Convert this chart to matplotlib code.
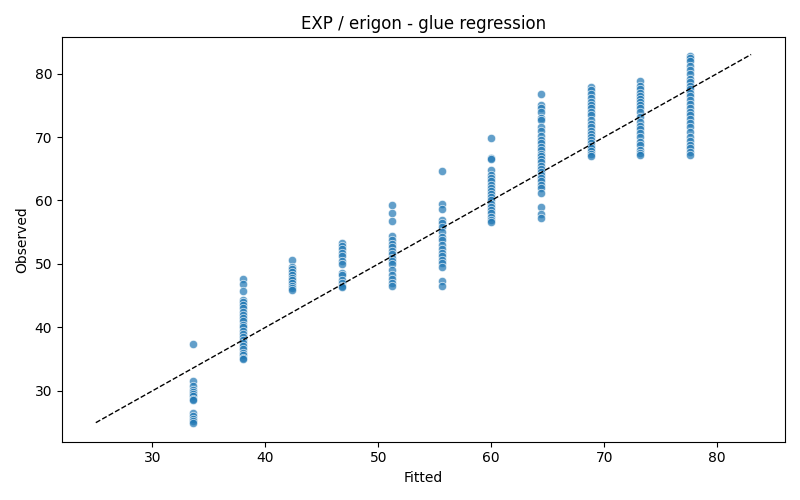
import matplotlib
matplotlib.use("Agg")
import matplotlib.pyplot as plt
import numpy as np

fitted_levels = [33.6, 38.0, 42.4, 46.8, 51.2, 55.6, 60.0, 64.4, 68.8, 73.2, 77.6]
observed_by_level = [
    [37.4, 31.5, 30.8, 30.2, 29.8, 29.5, 29.2, 28.8, 28.5, 26.6, 26.0, 25.6, 25.3, 25.0],
    [47.6, 46.8, 45.8, 44.4, 44.0, 43.5, 43.0, 42.4, 42.0, 41.5, 41.0, 40.4, 40.0, 39.5, 39.0, 38.5, 38.0, 37.5, 37.0, 36.6, 36.0, 35.6, 35.2, 35.0],
    [50.6, 49.6, 49.2, 48.8, 48.3, 47.8, 47.4, 47.0, 46.6, 46.2, 45.9],
    [53.3, 52.8, 52.3, 51.8, 51.2, 50.5, 50.0, 48.6, 48.2, 47.5, 47.0, 46.6, 46.3],
    [59.3, 58.1, 56.8, 54.4, 53.8, 53.2, 52.6, 52.1, 51.6, 51.0, 50.5, 50.0, 49.0, 48.3, 47.6, 47.0, 46.6],
    [64.6, 59.5, 58.6, 56.9, 56.4, 55.8, 55.0, 54.3, 53.8, 53.0, 52.4, 51.8, 51.2, 50.7, 50.2, 49.6, 47.3, 46.5],
    [69.8, 66.7, 66.5, 64.8, 64.0, 63.5, 63.0, 62.5, 62.0, 61.5, 61.0, 60.5, 60.0, 59.5, 59.0, 58.5, 58.0, 57.4, 57.0, 56.6],
    [76.8, 75.0, 74.5, 74.0, 73.0, 72.6, 71.5, 71.0, 70.2, 69.6, 69.0, 68.5, 68.0, 67.4, 67.0, 66.5, 66.0, 65.5, 65.0, 64.5, 64.0, 63.5, 63.0, 62.5, 62.0, 61.2, 59.0, 57.8, 57.3],
    [77.9, 77.4, 76.7, 76.2, 75.5, 75.0, 74.5, 74.0, 73.4, 72.6, 72.0, 71.5, 71.0, 70.5, 70.0, 69.5, 69.0, 68.6, 68.2, 67.8, 67.4, 67.0],
    [78.8, 78.1, 77.5, 77.0, 76.5, 76.0, 75.5, 75.0, 74.5, 74.0, 73.2, 72.4, 71.8, 71.2, 70.6, 70.0, 69.2, 68.8, 68.0, 67.5, 67.2],
    [82.8, 82.4, 82.0, 81.2, 80.5, 80.0, 79.2, 78.6, 78.0, 77.5, 77.0, 76.4, 75.8, 75.2, 74.6, 74.0, 73.4, 72.8, 72.2, 71.5, 70.8, 70.0, 69.4, 68.8, 68.2, 67.6, 67.2],
]
line_range = [25.0, 83.0]

fitted = []
observed = []
for f, obs in zip(fitted_levels, observed_by_level):
    fitted += [f] * len(obs)
    observed += obs

fig, ax = plt.subplots(figsize=(8, 5), dpi=100)
ax.scatter(fitted, observed, s=36, color="#1f77b4", alpha=0.7, edgecolors="white", linewidths=0.6)
ax.plot(line_range, line_range, "k--", lw=1)
ax.set_xlim(22.0, 86.0)
ax.set_ylim(22.0, 85.7)
ax.set_xlabel("Fitted")
ax.set_ylabel("Observed")
ax.set_title("EXP / erigon - glue regression")
fig.tight_layout()
fig.savefig("out.png")
